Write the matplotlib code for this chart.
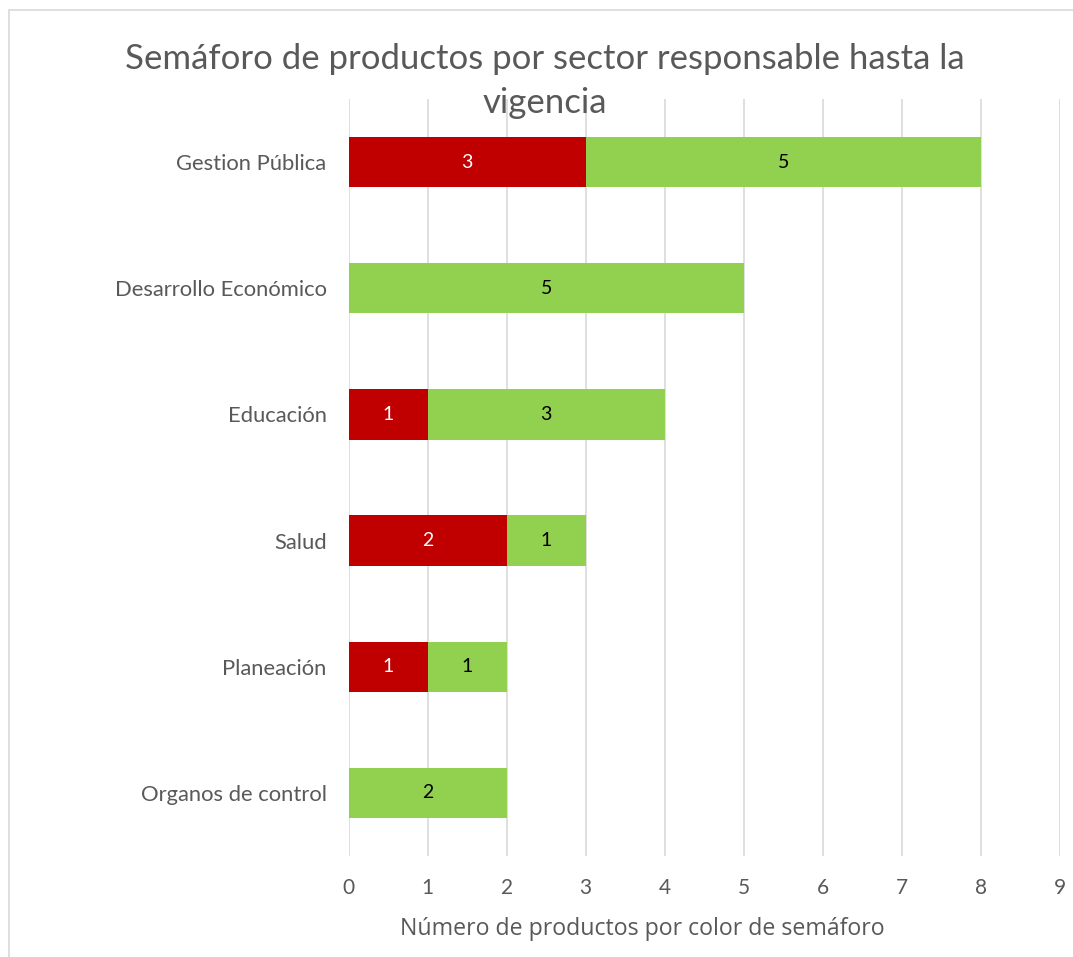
import matplotlib
matplotlib.use("Agg")
import matplotlib.pyplot as plt
from matplotlib.patches import Rectangle

categories = ["Gestion Pública", "Desarrollo Económico", "Educación", "Salud", "Planeación", "Organos de control"]
rojo = [3, 0, 1, 2, 1, 0]
verde = [5, 5, 3, 1, 1, 2]
xticks = list(range(0, 10))

plt.rcParams['font.family'] = ['Lato', 'DejaVu Sans']

fig = plt.figure(figsize=(10.73, 9.57), dpi=100)
ax = fig.add_axes([0.325, 0.1055, 0.6626, 0.7911])

n = len(categories)
ypos = list(range(n))[::-1]
h = 0.4
red_c = "#C00000"
green_c = "#92D050"
txt_c = "#595959"

ax.barh(ypos, rojo, height=h, color=red_c, zorder=3)
ax.barh(ypos, verde, left=rojo, height=h, color=green_c, zorder=3)

for y, r, g in zip(ypos, rojo, verde):
    if r > 0:
        ax.text(r / 2, y, str(r), ha="center", va="center", color="white", fontsize=14, zorder=4)
    if g > 0:
        ax.text(r + g / 2, y, str(g), ha="center", va="center", color="black", fontsize=14, zorder=4)

ax.set_xlim(0, 9)
ax.set_ylim(-0.5, n - 0.5)
ax.set_xticks(xticks)
ax.set_xticklabels([str(t) for t in xticks], fontsize=15, color=txt_c)
ax.set_yticks(ypos)
ax.set_yticklabels(categories, fontsize=15.8, color=txt_c)
ax.tick_params(axis="x", length=0, pad=16)
ax.tick_params(axis="y", length=0, pad=16)
ax.grid(axis="x", color="#D9D9D9", linewidth=1.2, zorder=0)
for s in ax.spines.values():
    s.set_visible(False)

fig.text(0.599, 0.029, "Número de productos por color de semáforo", ha="center", va="center",
         fontsize=16.7, color=txt_c, family=['Open Sans', 'DejaVu Sans'])

fig.text(0.508, 0.915, "Semáforo de productos por sector responsable hasta la\nvigencia",
         ha="center", va="center", fontsize=25, color=txt_c, linespacing=1.45)

fig.add_artist(Rectangle((0.008, -0.01), 1.0, 0.9995, transform=fig.transFigure,
                         fill=False, edgecolor="#D9D9D9", linewidth=1.2))

fig.savefig("out.png", dpi=100)
